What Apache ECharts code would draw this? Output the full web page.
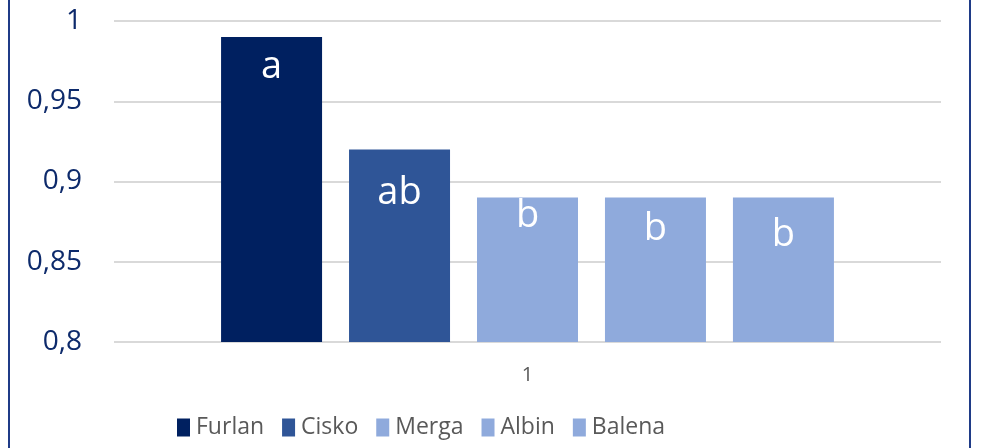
<!DOCTYPE html>
<html><head><meta charset="utf-8">
<script src="https://cdn.jsdelivr.net/npm/echarts@6/dist/echarts.min.js"></script>
<style>html,body{margin:0;padding:0;background:#fff}#c{width:983px;height:448px}</style>
</head><body><div id="c"></div>
<script>
const categories = ['1'];
const seriesNames = ['Furlan', 'Cisko', 'Merga', 'Albin', 'Balena'];
const seriesValues = [[0.99], [0.92], [0.89], [0.89], [0.89]];
const seriesLabels = ['a', 'ab', 'b', 'b', 'b'];
const seriesColors = ['#002060', '#2f5597', '#8faadc', '#8faadc', '#8faadc'];
const labelDistances = [11, 25, 0, 13, 19];
const yTicks = [0.8, 0.85, 0.9, 0.95, 1];

const chart = echarts.init(document.getElementById('c'));
chart.setOption({
  animation: false,
  grid: { left: 114, right: 42, top: 21, bottom: 106, containLabel: false },
  xAxis: {
    type: 'category', data: categories,
    axisLine: { show: false }, axisTick: { show: false },
    axisLabel: { color: '#595959', fontSize: 20, fontFamily: 'Open Sans', margin: 23 }
  },
  yAxis: {
    type: 'value', min: 0.8, max: 1, interval: 0.05,
    axisLine: { show: false }, axisTick: { show: false },
    splitLine: { lineStyle: { color: '#d9d9d9', width: 2 } },
    axisLabel: {
      color: '#0d2a6b', fontSize: 28, fontFamily: 'Open Sans', margin: 32,
      formatter: v => { const t = yTicks.find(x => Math.abs(x - v) < 1e-9); return String(t !== undefined ? t : v).replace('.', ','); }
    }
  },
  legend: {
    bottom: 4, left: 172, itemWidth: 13, itemHeight: 18, itemGap: 18,
    icon: 'rect',
    textStyle: { color: '#595959', fontSize: 23, fontFamily: 'Open Sans', padding: [0, 0, 0, 1] },
    data: seriesNames
  },
  series: seriesNames.map((n, i) => ({
    name: n, type: 'bar', data: seriesValues[i],
    barWidth: 101, barGap: '26.7%',
    itemStyle: { color: seriesColors[i] },
    label: { show: true, position: 'insideTop', distance: labelDistances[i], color: '#fff', fontSize: 38, fontFamily: 'Open Sans', formatter: seriesLabels[i] }
  })),
  graphic: [
    { type: 'line', shape: { x1: 9, y1: 0, x2: 9, y2: 448 }, style: { stroke: '#1f3b87', lineWidth: 2 } },
    { type: 'line', shape: { x1: 970, y1: 0, x2: 970, y2: 448 }, style: { stroke: '#1f3b87', lineWidth: 2 } }
  ]
});
</script></body></html>
